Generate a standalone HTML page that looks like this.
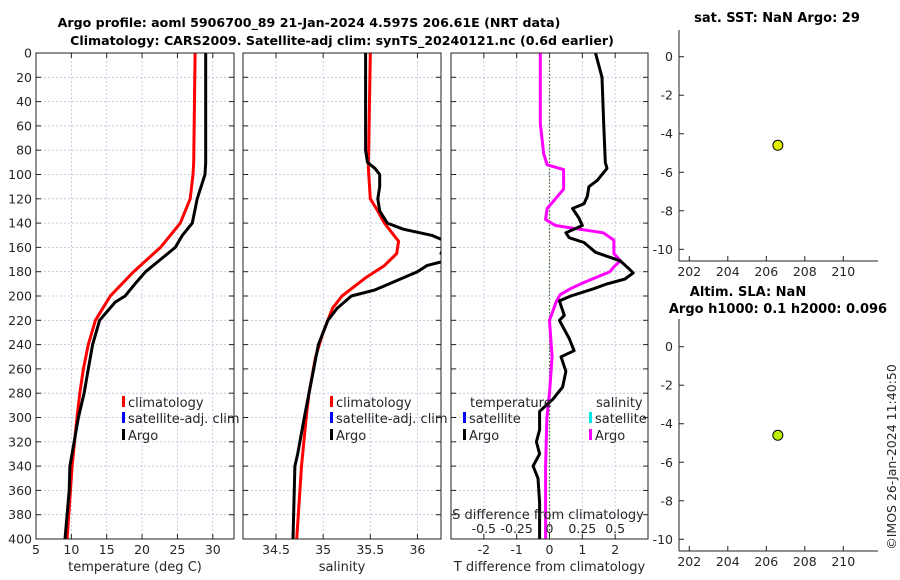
<!DOCTYPE html>
<html><head><meta charset="utf-8"><style>
body{margin:0;background:#fff;}
svg{display:block;font-family:"DejaVu Sans","Liberation Sans",sans-serif;}
</style></head><body>
<svg id="fig" width="900" height="580" viewBox="0 0 900 580" xmlns="http://www.w3.org/2000/svg">
<rect width="900" height="580" fill="#fff"/>
<g id="g"></g>
</svg>
<script>
// ---- data ----
const tempDepths = [0,90,100,120,140,160,180,200,220,240,260,280,300,340,400];
const tempClim   = [27.5,27.3,27.2,26.8,25.4,22.6,18.8,15.5,13.4,12.4,11.7,11.2,10.8,10.1,9.4];
const tempArgoDepths = [0,90,100,120,140,150,160,170,180,190,200,205,220,240,260,280,300,320,340,360,400];
const tempArgo   = [29.0,29.0,28.9,27.8,27.1,25.7,24.7,22.6,20.5,19.0,17.6,16.2,14.0,13.0,12.4,11.8,11.0,10.4,9.8,9.7,9.1];
const salClimDepths = [0,95,120,130,140,150,155,165,175,185,200,210,230,250,280,300,340,400];
const salClim    = [35.50,35.48,35.5,35.58,35.65,35.75,35.8,35.78,35.65,35.45,35.2,35.1,35.0,34.92,34.85,34.82,34.77,34.72];
const salArgoDepths = [0,80,90,95,100,110,120,130,140,145,150,155,165,170,175,180,190,195,200,210,220,240,260,280,300,330,340,400];
const salArgo    = [35.45,35.45,35.47,35.55,35.6,35.6,35.58,35.6,35.68,35.85,36.15,36.3,36.25,36.35,36.1,36.0,35.7,35.55,35.3,35.15,35.05,34.95,34.9,34.85,34.8,34.73,34.7,34.68];
const tDiffDepths = [0,20,58,90,95,105,110,118,124,128,132,136,142,148,152,156,164,171,177,181,186,190,194,200,204,208,216,220,235,245,250,262,275,285,295,310,320,330,340,350,370,385,400];
const tDiff      = [1.4,1.6,1.65,1.7,1.75,1.45,1.2,1.15,1.05,0.7,0.8,0.9,1.0,0.5,0.6,1.05,1.4,2.15,2.4,2.55,2.3,1.75,1.35,0.65,0.3,0.35,0.45,0.3,0.6,0.75,0.35,0.5,0.4,0.1,-0.3,-0.3,-0.4,-0.3,-0.5,-0.35,-0.3,-0.3,-0.3];
const sDiffDepths = [0,58,83,92,96,112,120,128,137,142,148,154,165,171,176,180,189,194,199,205,220,250,280,300,340,400];
const sDiff      = [-0.07,-0.07,-0.044,-0.018,0.107,0.107,0.046,-0.018,-0.03,0.046,0.41,0.49,0.49,0.54,0.49,0.46,0.26,0.16,0.08,0.05,0.0,0.02,0.0,-0.02,-0.03,-0.03];
const depthTicks = [0,20,40,60,80,100,120,140,160,180,200,220,240,260,280,300,320,340,360,380,400];
const tempTicks = [5,10,15,20,25,30];
const salTicks = [34.5,35,35.5,36];
const tDiffTicks = [-2,-1,0,1,2];
const sDiffTickLabels = ["-0.5","-0.25","0","0.25","0.5"];
const sDiffTicks = [-0.5,-0.25,0,0.25,0.5];
const lonTicks = [202,204,206,208,210];
const latTicks = [0,-2,-4,-6,-8,-10];
const argoLon = [206.6], argoLat = [-4.6];

const NS="http://www.w3.org/2000/svg";
const G=document.getElementById('g');
function el(tag,attrs,parent){const e=document.createElementNS(NS,tag);for(const k in attrs)e.setAttribute(k,attrs[k]);(parent||G).appendChild(e);return e;}
function txt(s,attrs,parent){const e=el('text',attrs,parent);e.textContent=s;return e;}

const yTop=53,yBot=539;
const yD=d=>yTop+(d/400)*(yBot-yTop);
function lin(d0,d1,r0,r1){return v=>r0+(v-d0)/(d1-d0)*(r1-r0);}

function panel(name,x0,x1,xmin,xmax,ticks,labelLeft,xlabel,idx){
  const g=el('g',{});
  
  
  const xs=lin(xmin,xmax,x0,x1);
  const cp=el('clipPath',{id:'cp'+idx},g);
  el('rect',{x:x0,y:yTop,width:x1-x0,height:yBot-yTop},cp);
  depthTicks.forEach(d=>{
    const y=yD(d);
    const l=el('line',{x1:x0,x2:x1,y1:y,y2:y,stroke:'#b8c0dc','stroke-width':0.8,'stroke-dasharray':'2,2'},g);
    
    el('line',{x1:x0,x2:x0+5,y1:y,y2:y,stroke:'#222','stroke-width':1},g);
    el('line',{x1:x1-5,x2:x1,y1:y,y2:y,stroke:'#222','stroke-width':1},g);
    if(labelLeft){const t=txt(String(d),{x:x0-4,y:y+4.5,'text-anchor':'end','font-size':12.5,fill:'#262626'},g);
      }
  });
  ticks.forEach(v=>{
    const x=xs(v);
    const l=el('line',{x1:x,x2:x,y1:yTop,y2:yBot,stroke:'#b8c0dc','stroke-width':0.8,'stroke-dasharray':'2,2'},g);
    
    el('line',{x1:x,x2:x,y1:yBot,y2:yBot-5,stroke:'#222'},g);
    el('line',{x1:x,x2:x,y1:yTop,y2:yTop+5,stroke:'#222'},g);
    const t=txt(String(v),{x:x,y:554,'text-anchor':'middle','font-size':12.5,fill:'#262626'},g);
    
  });
  const xl=txt(xlabel,{x:(x0+x1)/2,y:571,'text-anchor':'middle','font-size':13,fill:'#262626'},g);
  
  const plot=el('g',{'clip-path':'url(#cp'+idx+')'},g);
  return {g,xs,plot,x0,x1};
}
function frame(p){const r=el('rect',{x:p.x0,y:yTop,width:p.x1-p.x0,height:yBot-yTop,fill:'none',stroke:'#222','stroke-width':1},p.g);
  }
function line(p,xsf,vals,depths,color,w,name){
  const pts=vals.map((v,i)=>xsf(v).toFixed(1)+','+yD(depths[i]).toFixed(1)).join(' ');
  const l=el('polyline',{points:pts,fill:'none',stroke:color,'stroke-width':w,'stroke-linejoin':'round'},p.plot);
  
}
function legend(p,x,y,color,label,parent){
  const b=el('rect',{x:x,y:y-11,width:3,height:11,fill:color},parent||p.g);
  
  const t=txt(label,{x:x+6,y:y,'font-size':13,fill:'#262626'},parent||p.g);
  
}

// panel 1 temperature
const p1=panel('temperature-panel',36,234,5,33,tempTicks,true,'temperature (deg C)',1);
line(p1,p1.xs,tempClim,tempDepths,'#ff0000',3,'temp-climatology-line');
line(p1,p1.xs,tempArgo,tempArgoDepths,'#000',3,'temp-argo-line');
frame(p1);
legend(p1,122,407,'#ff0000','climatology');
legend(p1,122,423,'#0000ff','satellite-adj. clim');
legend(p1,122,440,'#000','Argo');

// panel 2 salinity
const p2=panel('salinity-panel',243,441,34.15,36.25,salTicks,false,'salinity',2);
line(p2,p2.xs,salClim,salClimDepths,'#ff0000',3,'sal-climatology-line');
line(p2,p2.xs,salArgo,salArgoDepths,'#000',3,'sal-argo-line');
frame(p2);
legend(p2,330,407,'#ff0000','climatology');
legend(p2,330,423,'#0000ff','satellite-adj. clim');
legend(p2,330,440,'#000','Argo');

// panel 3 differences
const p3=panel('difference-panel',451,648,-3,3,tDiffTicks,false,'T difference from climatology',3);
const sxs=lin(-0.75,0.75,451,648);
const z=el('line',{x1:p3.xs(0),x2:p3.xs(0),y1:yTop,y2:yBot,stroke:'#4a6a2a','stroke-width':1.2,'stroke-dasharray':'1.5,2'},p3.plot);

line(p3,sxs,sDiff,sDiffDepths,'#ff00ff',3,'sal-diff-line');
line(p3,p3.xs,tDiff,tDiffDepths,'#000',3,'temp-diff-line');
frame(p3);
let t=txt('temperature',{x:470,y:407,'font-size':13,fill:'#262626'},p3.g);

t=txt('salinity',{x:596,y:407,'font-size':13,fill:'#262626'},p3.g);

legend(p3,463,423,'#0000ff','satellite');
legend(p3,463,440,'#000','Argo');
legend(p3,589,423,'#00e5e5','satellite');
legend(p3,589,440,'#ff00ff','Argo');
t=txt('S difference from climatology',{x:548,y:519,'text-anchor':'middle','font-size':13,fill:'#262626'},p3.g);

sDiffTicks.forEach((v,i)=>{
  const tt=txt(sDiffTickLabels[i],{x:sxs(v),y:533,'text-anchor':'middle','font-size':12.5,fill:'#262626'},p3.g);
  
});

// titles
t=txt('Argo profile: aoml 5906700_89 21-Jan-2024 4.597S 206.61E (NRT data)',{x:309,y:27,'text-anchor':'middle','font-size':12.6,'font-weight':'bold',fill:'#000'});

t=txt('Climatology: CARS2009. Satellite-adj clim: synTS_20240121.nc (0.6d earlier)',{x:342,y:45,'text-anchor':'middle','font-size':12.6,'font-weight':'bold',fill:'#000'});


// map panels
function mapPanel(name,yt,yb,y0px,y10px,titles,dotFill){
  const g=el('g',{});
  
  const xs=lin(202,210,689.3,843.3), ys=lin(0,-10,y0px,y10px);
  el('line',{x1:679,x2:679,y1:yt,y2:yb,stroke:'#222'},g);
  el('line',{x1:679,x2:878,y1:yb,y2:yb,stroke:'#222'},g);
  latTicks.forEach(v=>{const y=ys(v);el('line',{x1:679,x2:684,y1:y,y2:y,stroke:'#222'},g);
    const tt=txt(String(v),{x:673,y:y+4.5,'text-anchor':'end','font-size':12.5,fill:'#262626'},g);
    });
  lonTicks.forEach(v=>{const x=xs(v);el('line',{x1:x,x2:x,y1:yb,y2:yb-5,stroke:'#222'},g);
    const tt=txt(String(v),{x:x,y:yb+15,'text-anchor':'middle','font-size':12.5,fill:'#262626'},g);
    });
  titles.forEach(a=>{const tt=txt(a[0],{x:a[1],y:a[2],'text-anchor':'middle','font-size':13,'font-weight':'bold',fill:'#000'},g);
    });
  argoLon.forEach((lo,i)=>{const c=el('circle',{cx:xs(lo),cy:ys(argoLat[i]),r:5,fill:dotFill,stroke:'#000','stroke-width':1},g);
    });
}
mapPanel('sst-map-panel',30,261,56.7,249.3,[['sat. SST: NaN Argo: 29',777,22]],'#e0f000');
mapPanel('sla-map-panel',319,551,346.7,539.3,[['Altim. SLA: NaN',748,296],['Argo h1000: 0.1 h2000: 0.096',778,313]],'#b8f000');

t=txt('©IMOS 26-Jan-2024 11:40:50',{x:0,y:0,'text-anchor':'middle','font-size':12.5,fill:'#262626',transform:'translate(896,457) rotate(-90)'});

</script>
</body></html>
